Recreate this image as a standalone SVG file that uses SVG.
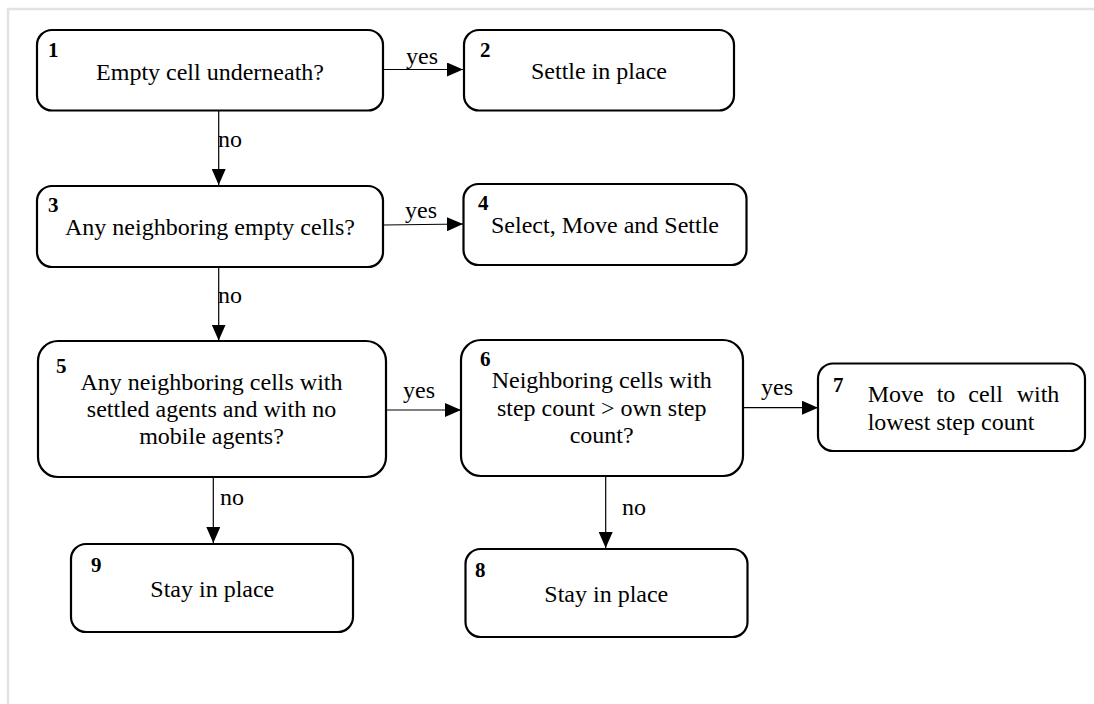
<svg xmlns="http://www.w3.org/2000/svg" width="1094" height="704" viewBox="0 0 1094 704">
<style>
.box{fill:#fff;stroke:#000;stroke-width:2.2}
.t{font-family:'Liberation Serif',serif;font-size:24px;fill:#000}
.c{text-anchor:middle}
.n{font-family:'Liberation Serif',serif;font-size:21px;font-weight:bold;fill:#000}
.e{stroke:#000;stroke-width:1.2;fill:none}
</style>
<defs>
<marker id="arr" markerUnits="userSpaceOnUse" markerWidth="16" markerHeight="14" refX="16" refY="7" orient="auto">
<path d="M0,0 L16,7 L0,14 Z" fill="#000"/>
</marker>
</defs>
<rect width="1094" height="704" fill="#fff"/>
<path d="M8,704 L8,9 L1094,9" fill="none" stroke="#e2e2e2" stroke-width="2.5"/>
<g id="connectors">
<line class="e" x1="384" y1="69.5" x2="463" y2="69.5" marker-end="url(#arr)"/>
<text class="t" x="406" y="64">yes</text>
<line class="e" x1="218.7" y1="111" x2="218.7" y2="185" marker-end="url(#arr)"/>
<text class="t" x="218" y="147">no</text>
<line class="e" x1="384" y1="225" x2="463" y2="224" marker-end="url(#arr)"/>
<text class="t" x="405" y="218">yes</text>
<line class="e" x1="218.7" y1="267" x2="218.7" y2="340.5" marker-end="url(#arr)"/>
<text class="t" x="218" y="303">no</text>
<line class="e" x1="387" y1="410" x2="461" y2="410" marker-end="url(#arr)"/>
<text class="t" x="403" y="398">yes</text>
<line class="e" x1="213.3" y1="477" x2="213.3" y2="543" marker-end="url(#arr)"/>
<text class="t" x="220" y="505">no</text>
<line class="e" x1="744" y1="407.7" x2="818" y2="407.7" marker-end="url(#arr)"/>
<text class="t" x="761" y="395">yes</text>
<line class="e" x1="605.7" y1="476" x2="605.7" y2="548" marker-end="url(#arr)"/>
<text class="t" x="622" y="515">no</text>
</g>
<g id="node1">
<rect class="box" x="37" y="30" width="346" height="80.5" rx="15"/>
<text class="n" x="48" y="57">1</text>
<text class="t c" x="210" y="80">Empty cell underneath?</text>
</g>
<g id="node2">
<rect class="box" x="464" y="30" width="270" height="80.5" rx="15"/>
<text class="n" x="480" y="57">2</text>
<text class="t c" x="599" y="79">Settle in place</text>
</g>
<g id="node3">
<rect class="box" x="37" y="186" width="346" height="81" rx="15"/>
<text class="n" x="48" y="212">3</text>
<text class="t c" x="210" y="235">Any neighboring empty cells?</text>
</g>
<g id="node4">
<rect class="box" x="463.5" y="184" width="283" height="81" rx="15"/>
<text class="n" x="478" y="210">4</text>
<text class="t c" x="605" y="233">Select, Move and Settle</text>
</g>
<g id="node5">
<rect class="box" x="38" y="341" width="348" height="136" rx="20"/>
<text class="n" x="56" y="373">5</text>
<text class="t c" x="211.5" y="390">Any neighboring cells with</text>
<text class="t c" x="211.5" y="417">settled agents and with no</text>
<text class="t c" x="211.5" y="444">mobile agents?</text>
</g>
<g id="node6">
<rect class="box" x="461" y="340" width="282" height="136" rx="20"/>
<text class="n" x="480" y="366">6</text>
<text class="t c" x="601.7" y="388">Neighboring cells with</text>
<text class="t c" x="601.7" y="416">step count &gt; own step</text>
<text class="t c" x="601.7" y="443">count?</text>
</g>
<g id="node7">
<rect class="box" x="818" y="363.5" width="267" height="87.5" rx="15"/>
<text class="n" x="833" y="392">7</text>
<text class="t" y="402"><tspan x="867.7">Move</tspan><tspan x="936.7">to</tspan><tspan x="968.3">cell</tspan><tspan x="1016.7">with</tspan></text>
<text class="t" x="867.7" y="430">lowest step count</text>
</g>
<g id="node8">
<rect class="box" x="465.5" y="549" width="282" height="88" rx="15"/>
<text class="n" x="475" y="577">8</text>
<text class="t c" x="606.3" y="602">Stay in place</text>
</g>
<g id="node9">
<rect class="box" x="71" y="544" width="282" height="88" rx="15"/>
<text class="n" x="91" y="572">9</text>
<text class="t c" x="212.3" y="597">Stay in place</text>
</g>
</svg>
